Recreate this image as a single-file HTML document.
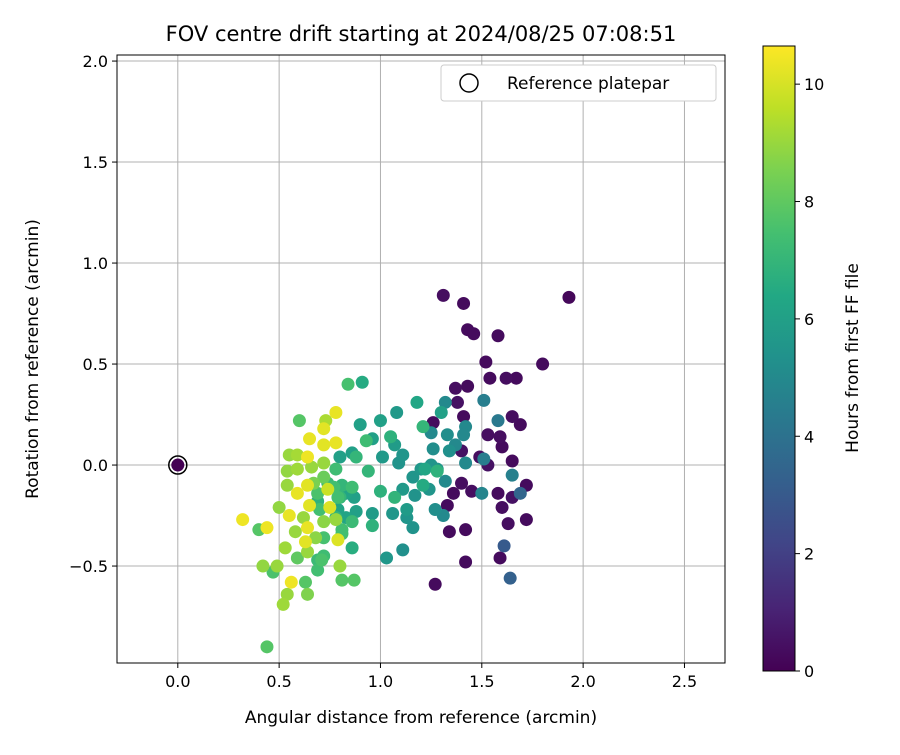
<!DOCTYPE html>
<html><head><meta charset="utf-8"><style>
body{margin:0;background:#fff;}
svg text{font-family:"DejaVu Sans","Liberation Sans",sans-serif;fill:#000;}
</style></head><body>
<svg id="chart" width="900" height="750" viewBox="0 0 900 750" xmlns="http://www.w3.org/2000/svg">
<defs>
<linearGradient id="vir" x1="0" y1="1" x2="0" y2="0">
<stop offset="0" stop-color="#440154"/><stop offset="0.1" stop-color="#482475"/><stop offset="0.2" stop-color="#414487"/><stop offset="0.3" stop-color="#355f8d"/><stop offset="0.4" stop-color="#2a788e"/><stop offset="0.5" stop-color="#21918c"/><stop offset="0.6" stop-color="#22a884"/><stop offset="0.7" stop-color="#44bf70"/><stop offset="0.8" stop-color="#7ad151"/><stop offset="0.9" stop-color="#bddf26"/><stop offset="1" stop-color="#fde725"/>
</linearGradient>
<clipPath id="pc"><rect x="117" y="55" width="608" height="608"/></clipPath>
</defs>
<text x="421" y="41" font-size="21" text-anchor="middle">FOV centre drift starting at 2024/08/25 07:08:51</text>
<g id="grid"></g>
<g id="pts" clip-path="url(#pc)"></g>
<rect x="117" y="55" width="608" height="608" fill="none" stroke="#000" stroke-width="1"/>
<g id="ticks"></g>
<text x="421" y="723" font-size="17" text-anchor="middle">Angular distance from reference (arcmin)</text>
<text transform="translate(38,359) rotate(-90)" font-size="17" text-anchor="middle">Rotation from reference (arcmin)</text>
<g>
<rect x="441" y="65" width="275" height="36" rx="3" fill="#fff" stroke="#ccc"/>
<circle cx="469" cy="83" r="9" fill="none" stroke="#000" stroke-width="1.5"/>
<text x="507" y="89" font-size="17">Reference platepar</text>
</g>
<rect x="763" y="46" width="32" height="625" fill="url(#vir)" stroke="#000" stroke-width="1"/>
<g id="cbticks"></g>
<text transform="translate(858,358) rotate(-90)" font-size="17" text-anchor="middle">Hours from first FF file</text>
</svg>
<script>
const xTicks=[0.0,0.5,1.0,1.5,2.0,2.5];
const yTicks=[-0.5,0.0,0.5,1.0,1.5,2.0];
const cbTicks=[0,2,4,6,8,10];
const refX=[0];
const refY=[0];
const ptX=[0.84,0.91,0.60,0.78,0.73,0.72,0.65,0.72,0.78,0.64,0.55,0.59,0.72,0.66,0.54,0.59,0.72,0.54,0.64,0.74,0.59,0.50,0.55,0.65,0.75,0.62,0.72,0.78,0.58,0.64,0.68,0.63,0.64,0.79,0.53,0.59,0.71,0.44,0.40,0.32,0.42,0.49,0.47,0.56,0.63,0.64,0.54,0.52,0.80,0.81,0.87,0.44,0.69,0.69,0.72,0.86,0.81,0.86,0.86,0.80,0.77,0.83,0.93,0.90,1.00,1.08,1.18,0.80,0.88,0.86,0.96,1.05,1.07,1.11,1.01,1.09,0.94,1.00,1.07,1.11,1.17,1.24,1.21,1.16,1.20,1.28,1.27,1.06,1.13,1.13,1.16,1.11,1.03,0.96,0.88,0.96,0.87,0.81,0.79,0.74,0.78,0.69,0.69,0.79,0.83,0.78,0.81,0.72,0.70,0.67,1.26,1.21,1.27,
1.31,1.41,1.43,1.46,1.58,1.93,1.80,1.52,1.54,1.62,1.67,1.37,1.43,1.38,1.41,1.65,1.69,1.53,1.59,1.60,1.40,1.49,1.53,1.65,1.40,1.36,1.45,1.33,1.58,1.60,1.65,1.72,1.72,1.63,1.34,1.42,1.42,1.59,
1.61,1.64,1.69,1.51,1.51,1.58,1.65,1.50,
1.32,1.30,1.42,1.41,1.25,1.33,1.37,1.26,1.34,1.42,1.32,1.28,1.25,1.22,1.31];
const ptY=[0.40,0.41,0.22,0.26,0.22,0.18,0.13,0.10,0.11,0.04,0.05,0.05,0.01,-0.01,-0.03,-0.02,-0.06,-0.10,-0.10,-0.12,-0.14,-0.21,-0.25,-0.20,-0.21,-0.26,-0.28,-0.27,-0.33,-0.31,-0.36,-0.38,-0.43,-0.37,-0.41,-0.46,-0.47,-0.31,-0.32,-0.27,-0.50,-0.50,-0.53,-0.58,-0.58,-0.64,-0.64,-0.69,-0.50,-0.57,-0.57,-0.90,-0.52,-0.47,-0.45,-0.41,-0.34,-0.28,-0.11,-0.16,-0.11,-0.14,0.12,0.20,0.22,0.26,0.31,0.04,0.04,0.06,0.13,0.14,0.10,0.05,0.04,0.01,-0.03,-0.13,-0.16,-0.12,-0.15,-0.12,-0.10,-0.06,-0.02,-0.02,-0.22,-0.24,-0.22,-0.26,-0.31,-0.42,-0.46,-0.30,-0.23,-0.24,-0.16,-0.10,-0.16,-0.09,-0.02,-0.14,-0.18,-0.22,-0.26,-0.26,-0.32,-0.36,-0.22,-0.09,0.21,0.19,-0.59,
0.84,0.80,0.67,0.65,0.64,0.83,0.50,0.51,0.43,0.43,0.43,0.38,0.39,0.31,0.24,0.24,0.20,0.15,0.14,0.09,0.07,0.04,0.00,0.02,-0.09,-0.14,-0.13,-0.20,-0.14,-0.21,-0.16,-0.10,-0.27,-0.29,-0.33,-0.32,-0.48,-0.46,
-0.40,-0.56,-0.14,0.03,0.32,0.22,-0.05,-0.14,
0.31,0.26,0.19,0.15,0.16,0.15,0.10,0.08,0.07,0.01,-0.08,-0.03,0.00,-0.02,-0.25];
const ptHours=[7.5,6.5,7.8,10.3,9.3,10.2,10.3,10.2,10.3,10.4,9.0,9.2,9.0,9.0,8.9,9.1,8.2,9.0,10.2,9.8,10.3,8.9,10.3,10.2,10.1,9.0,8.8,9.0,9.0,10.3,8.8,10.2,9.0,10.1,9.1,8.0,7.6,10.4,7.8,10.4,8.9,9.0,7.6,10.4,7.8,8.6,9.0,9.1,9.0,7.8,7.8,7.8,7.4,7.2,7.3,6.6,7.4,7.2,7.3,7.0,7.4,6.2,7.3,6.0,6.0,5.7,6.3,6.0,7.0,6.0,6.0,6.8,5.8,5.5,5.7,5.4,7.0,6.8,6.9,5.7,5.4,5.5,6.5,5.5,5.6,5.5,5.2,5.6,5.8,5.5,5.4,5.3,5.6,6.8,6.0,5.8,6.0,7.0,7.4,7.2,7.3,7.6,6.8,6.2,6.2,7.0,7.4,7.5,7.4,8.5,0.3,7.0,0.3,
0.4,0.3,0.3,0.3,0.3,0.2,0.3,0.3,0.3,0.4,0.3,0.4,0.3,0.5,0.3,0.4,0.3,0.4,0.4,0.3,0.5,0.4,0.5,0.3,0.4,0.3,0.4,0.3,0.3,0.4,0.5,0.3,0.3,0.4,0.3,0.3,0.3,0.3,
3.0,3.3,3.5,4.5,4.5,4.3,4.6,4.8,
5.0,6.0,5.0,5.0,5.0,5.2,5.0,5.2,5.3,5.0,5.0,6.8,5.5,6.3,5.0];
const refHours=[0];

const X0=-0.3,X1=2.7,Y0=-0.98,Y1=2.03,PL=117,PR=725,PT=55,PB=663;
const CB0=0,CB1=10.65,CBT=46,CBB=671;
function sx(v){return PL+(v-X0)/(X1-X0)*(PR-PL);}
function sy(v){return PB-(v-Y0)/(Y1-Y0)*(PB-PT);}
function cy(v){return CBB-(v-CB0)/(CB1-CB0)*(CBB-CBT);}
const stops=["#440154","#482475","#414487","#355f8d","#2a788e","#21918c","#22a884","#44bf70","#7ad151","#bddf26","#fde725"];
function hex(h){return [1,3,5].map(i=>parseInt(h.substr(i,2),16));}
function viridis(v){let t=Math.max(0,Math.min(1,(v-CB0)/(CB1-CB0)))*10;let i=Math.min(9,Math.floor(t));let f=t-i;const a=hex(stops[i]),b=hex(stops[i+1]);return "rgb("+a.map((c,k)=>Math.round(c+(b[k]-c)*f)).join(",")+")";}
const NS="http://www.w3.org/2000/svg";
function mk(tag,attrs,parent){const e=document.createElementNS(NS,tag);for(const k in attrs)e.setAttribute(k,attrs[k]);parent.appendChild(e);return e;}
const grid=document.getElementById("grid"),ticks=document.getElementById("ticks");
xTicks.forEach(v=>{
 const l=mk("line",{x1:sx(v),x2:sx(v),y1:PT,y2:PB,stroke:"#b0b0b0","stroke-width":1},grid);
 
 
 const t=mk("line",{x1:sx(v),x2:sx(v),y1:PB,y2:PB+5,stroke:"#000"},ticks);
 
 
 const tx=mk("text",{x:sx(v),y:PB+24,"font-size":16,"text-anchor":"middle"},ticks);
 tx.textContent=v.toFixed(1);
 
 
});
yTicks.forEach(v=>{
 const l=mk("line",{x1:PL,x2:PR,y1:sy(v),y2:sy(v),stroke:"#b0b0b0","stroke-width":1},grid);
 
 
 const t=mk("line",{x1:PL-5,x2:PL,y1:sy(v),y2:sy(v),stroke:"#000"},ticks);
 
 
 const tx=mk("text",{x:PL-9,y:sy(v)+6,"font-size":16,"text-anchor":"end"},ticks);
 tx.textContent=(v<0?"\u2212":"")+Math.abs(v).toFixed(1);
 
 
});
const pts=document.getElementById("pts");
const order=ptX.map((_,i)=>i).sort((a,b)=>ptHours[a]-ptHours[b]);
order.forEach(i=>{
 const c=mk("circle",{cx:sx(ptX[i]),cy:sy(ptY[i]),r:6.5,fill:viridis(ptHours[i])},pts);
 
 
});
refX.forEach((v,i)=>{
 const c=mk("circle",{cx:sx(v),cy:sy(refY[i]),r:6.5,fill:viridis(refHours[i])},pts);
 
 
 const o=mk("circle",{cx:sx(v),cy:sy(refY[i]),r:9,fill:"none",stroke:"#000","stroke-width":1.5},pts);
 
 
});
const cbt=document.getElementById("cbticks");
cbTicks.forEach(v=>{
 const t=mk("line",{x1:795,x2:800,y1:cy(v),y2:cy(v),stroke:"#000"},cbt);
 
 
 const tx=mk("text",{x:804,y:cy(v)+6,"font-size":16},cbt);
 tx.textContent=String(v);
 
 
});
</script>
</body></html>
